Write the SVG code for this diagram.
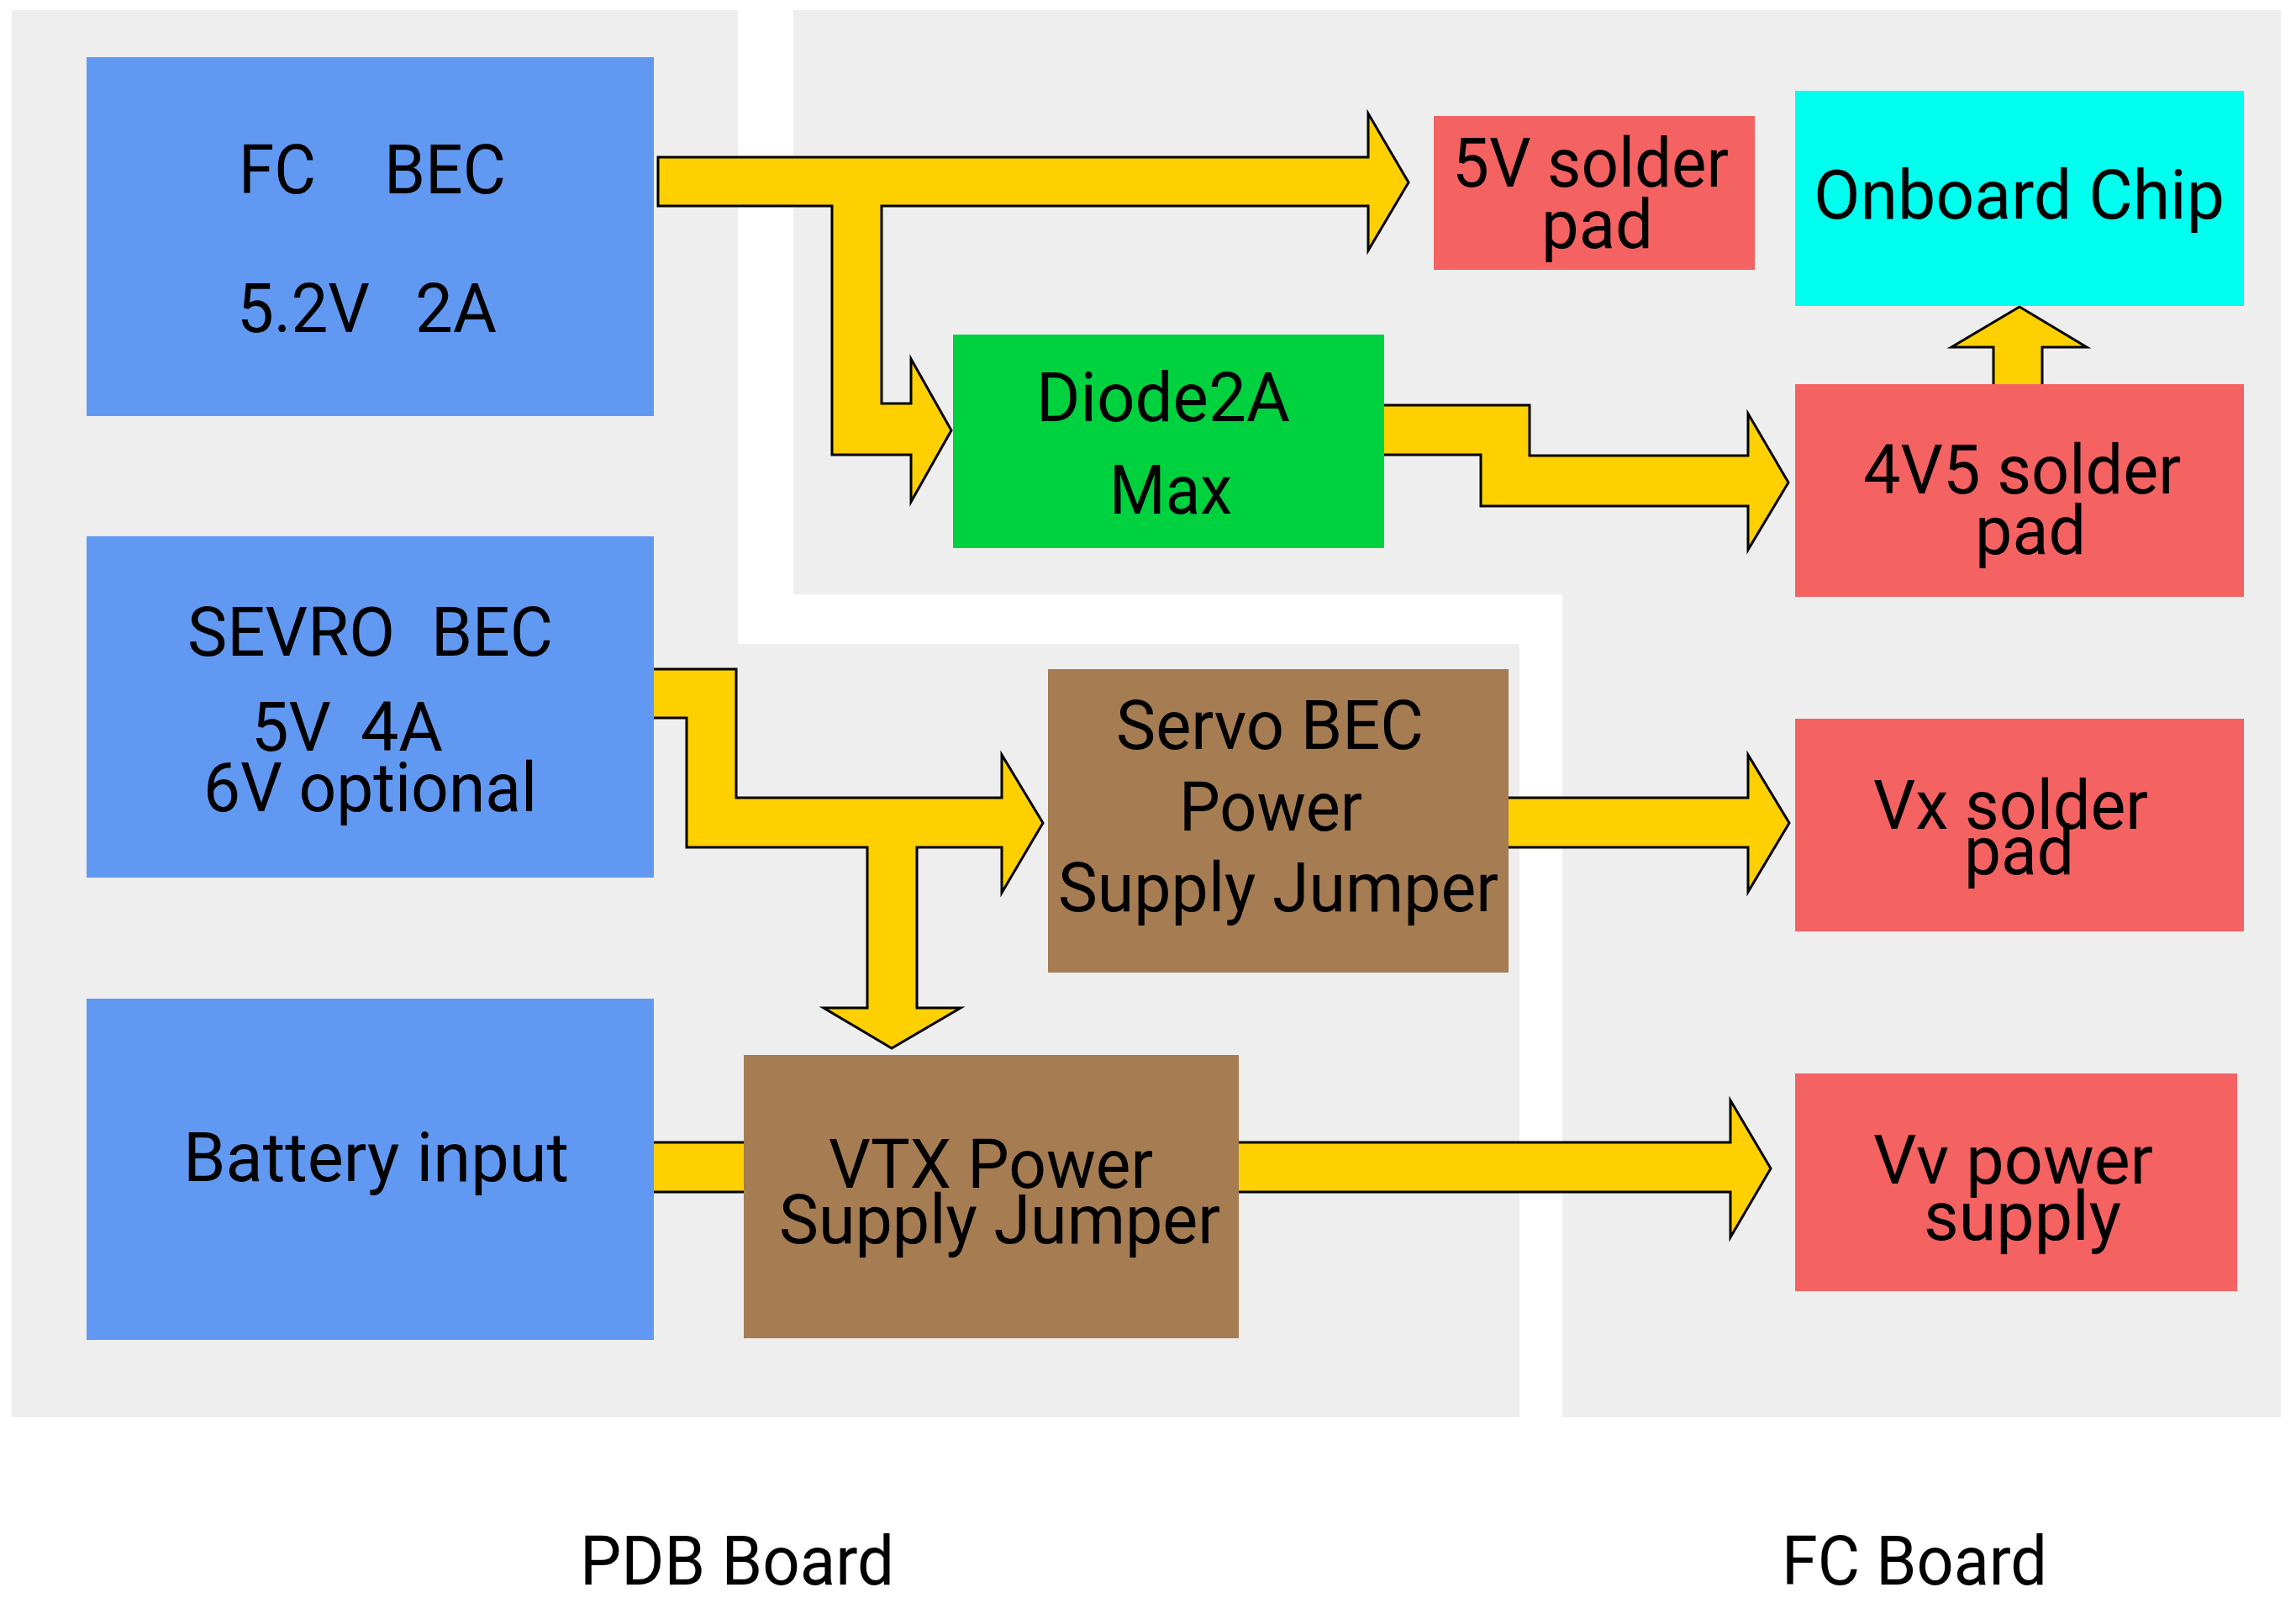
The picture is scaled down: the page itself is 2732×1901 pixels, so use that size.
<svg xmlns="http://www.w3.org/2000/svg" width="2732" height="1901" viewBox="0 0 2732 1901">
  <style>
    .board { fill: #eeeeee; }
    .bec { fill: #6199f2; }
    .diode { fill: #00d13f; }
    .pad { fill: #f46262; }
    .chip { fill: #00ffef; }
    .jumper { fill: #a67c52; }
    .flow { fill: #ffd000; stroke: #000000; stroke-width: 3; stroke-linejoin: miter; }
    text { font-family: Roboto, "Liberation Sans", sans-serif; font-size: 82px; fill: #000000; white-space: pre; }
  </style>

  <!-- board backgrounds -->
  <g id="boards">
    <polygon id="pdb-board" class="board" points="14,12 878,12 878,766 1808,766 1808,1686 14,1686"/>
    <polygon id="fc-board" class="board" points="944,12 2714,12 2714,1686 1859,1686 1859,707 944,707"/>
  </g>

  <!-- power flow arrows -->
  <g id="connectors">
    <polygon id="fcbec-to-5v-and-diode" class="flow" points="783,187 1628,187 1628,135 1676,217 1628,298 1628,245 1049,245 1049,480 1084,480 1084,427 1132,512 1084,597 1084,541 990,541 990,245 783,245"/>
    <polygon id="diode-to-4v5" class="flow" points="1640,482 1820,482 1820,542 2080,542 2080,492 2128,574 2080,654 2080,602 1762,602 1762,541 1640,541"/>
    <polygon id="4v5-to-chip" class="flow" points="2372,462 2372,413 2322,413 2403,365 2483,413 2430,413 2430,462"/>
    <polygon id="servobec-to-jumpers" class="flow" points="770,796 876,796 876,949 1192,949 1192,898 1241,979 1192,1062 1192,1008 1091,1008 1091,1199 1143,1199 1061,1247 980,1199 1032,1199 1032,1008 817,1008 817,854 770,854"/>
    <polygon id="servojumper-to-vx" class="flow" points="1790,949 2080,949 2080,898 2129,979 2080,1061 2080,1008 1790,1008"/>
    <polygon id="battery-to-vtx" class="flow" points="770,1359 890,1359 890,1418 770,1418"/>
    <polygon id="vtx-to-vv" class="flow" points="1468,1359 2059,1359 2059,1309 2107,1390 2059,1472 2059,1418 1468,1418"/>
  </g>

  <!-- PDB board nodes -->
  <g id="fc-bec">
    <rect class="bec" x="103" y="68" width="675" height="427"/>
    <text x="284" y="230" textLength="92" lengthAdjust="spacingAndGlyphs">FC</text>
    <text x="457" y="230" textLength="145" lengthAdjust="spacingAndGlyphs">BEC</text>
    <text x="282" y="395" textLength="158" lengthAdjust="spacingAndGlyphs">5.2V</text>
    <text x="494" y="395" textLength="97" lengthAdjust="spacingAndGlyphs">2A</text>
  </g>

  <g id="servo-bec">
    <rect class="bec" x="103" y="638" width="675" height="406"/>
    <text x="223" y="780" textLength="247" lengthAdjust="spacingAndGlyphs">SEVRO</text>
    <text x="513" y="780" textLength="145" lengthAdjust="spacingAndGlyphs">BEC</text>
    <text x="299" y="893" textLength="95" lengthAdjust="spacingAndGlyphs">5V</text>
    <text x="429" y="893" textLength="98" lengthAdjust="spacingAndGlyphs">4A</text>
    <text x="242" y="965" textLength="397" lengthAdjust="spacingAndGlyphs">6V optional</text>
  </g>

  <g id="battery-input">
    <rect class="bec" x="103" y="1188" width="675" height="406"/>
    <text x="218" y="1405" textLength="459" lengthAdjust="spacingAndGlyphs">Battery input</text>
  </g>

  <g id="servo-jumper">
    <rect class="jumper" x="1247" y="796" width="548" height="361"/>
    <text x="1328" y="891" textLength="366" lengthAdjust="spacingAndGlyphs">Servo BEC</text>
    <text x="1403" y="988" textLength="218" lengthAdjust="spacingAndGlyphs">Power</text>
    <text x="1259" y="1084" textLength="524" lengthAdjust="spacingAndGlyphs">Supply Jumper</text>
  </g>

  <g id="vtx-jumper">
    <rect class="jumper" x="885" y="1255" width="589" height="337"/>
    <text x="986" y="1413" textLength="386" lengthAdjust="spacingAndGlyphs">VTX Power</text>
    <text x="927" y="1479" textLength="525" lengthAdjust="spacingAndGlyphs">Supply Jumper</text>
  </g>

  <!-- FC board nodes -->
  <g id="diode">
    <rect class="diode" x="1134" y="398" width="513" height="254"/>
    <text x="1233" y="501" textLength="302" lengthAdjust="spacingAndGlyphs">Diode2A</text>
    <text x="1320" y="611" textLength="146" lengthAdjust="spacingAndGlyphs">Max</text>
  </g>

  <g id="pad-5v">
    <rect class="pad" x="1706" y="138" width="382" height="183"/>
    <text x="1728" y="222" textLength="329" lengthAdjust="spacingAndGlyphs">5V solder</text>
    <text x="1834" y="295" textLength="133" lengthAdjust="spacingAndGlyphs">pad</text>
  </g>

  <g id="onboard-chip">
    <rect class="chip" x="2136" y="108" width="534" height="256"/>
    <text x="2158" y="260" textLength="489" lengthAdjust="spacingAndGlyphs">Onboard Chip</text>
  </g>

  <g id="pad-4v5">
    <rect class="pad" x="2136" y="457" width="534" height="253"/>
    <text x="2217" y="587" textLength="378" lengthAdjust="spacingAndGlyphs">4V5 solder</text>
    <text x="2350" y="659" textLength="132" lengthAdjust="spacingAndGlyphs">pad</text>
  </g>

  <g id="pad-vx">
    <rect class="pad" x="2136" y="855" width="534" height="253"/>
    <text x="2229" y="986" textLength="327" lengthAdjust="spacingAndGlyphs">Vx solder</text>
    <text x="2337" y="1040" textLength="131" lengthAdjust="spacingAndGlyphs">pad</text>
  </g>

  <g id="vv-supply">
    <rect class="pad" x="2136" y="1277" width="526" height="259"/>
    <text x="2229" y="1408" textLength="333" lengthAdjust="spacingAndGlyphs">Vv power</text>
    <text x="2289" y="1475" textLength="235" lengthAdjust="spacingAndGlyphs">supply</text>
  </g>

  <!-- board captions -->
  <g id="captions">
    <text x="690" y="1885" textLength="374" lengthAdjust="spacingAndGlyphs">PDB Board</text>
    <text x="2120" y="1885" textLength="316" lengthAdjust="spacingAndGlyphs">FC Board</text>
  </g>
</svg>
